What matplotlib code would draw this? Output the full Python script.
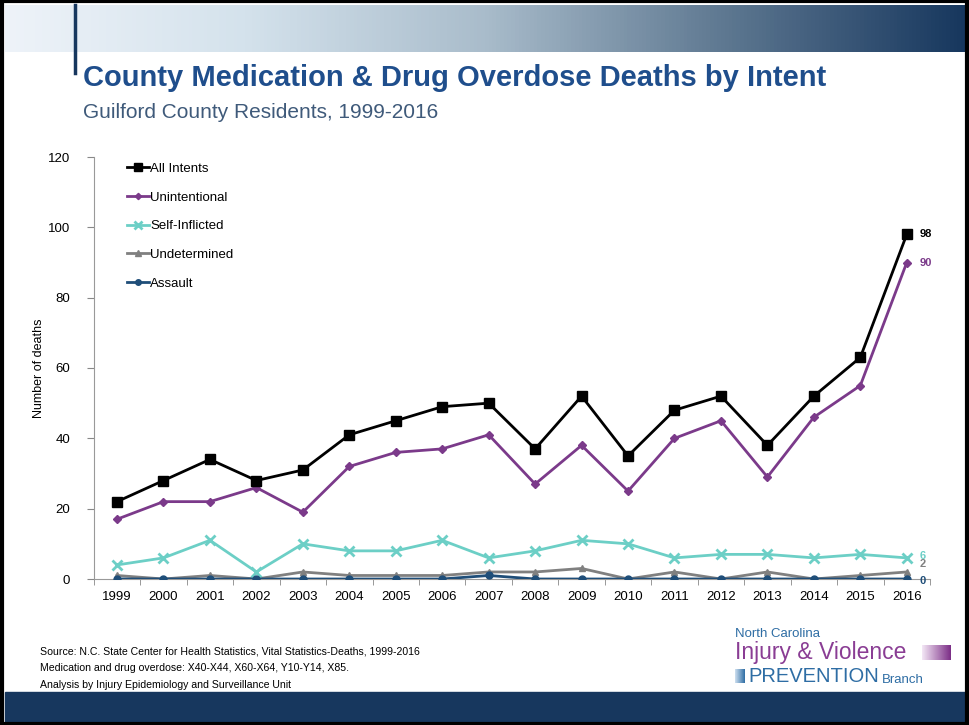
import numpy as np
import matplotlib
matplotlib.use("Agg")
import matplotlib.pyplot as plt
from matplotlib.colors import LinearSegmentedColormap
from matplotlib.patches import Rectangle

# datos
years = [str(y) for y in range(1999, 2017)]
all_intents = [22, 28, 34, 28, 31, 41, 45, 49, 50, 37, 52, 35, 48, 52, 38, 52, 63, 98]
unintentional = [17, 22, 22, 26, 19, 32, 36, 37, 41, 27, 38, 25, 40, 45, 29, 46, 55, 90]
self_inflicted = [4, 6, 11, 2, 10, 8, 8, 11, 6, 8, 11, 10, 6, 7, 7, 6, 7, 6]
undetermined = [1, 0, 1, 0, 2, 1, 1, 1, 2, 2, 3, 0, 2, 0, 2, 0, 1, 2]
assault = [0, 0, 0, 0, 0, 0, 0, 0, 1, 0, 0, 0, 0, 0, 0, 0, 0, 0]

plt.rcParams['font.family'] = ['Liberation Sans', 'DejaVu Sans']
NAVY = "#17375E"

fig = plt.figure(figsize=(9.69, 7.25), dpi=100)
W, H = 969, 725

def fx(px):
    return px / W

def fy(py):
    return 1 - py / H

# banda superior con degradado
band = fig.add_axes([fx(5), fy(52), fx(960), 47 / H])
grad = np.linspace(0, 1, 256).reshape(1, -1)
cmap = LinearSegmentedColormap.from_list("g", ["#EEF3F9", "#D4E2EC", "#A9BCCB", "#5E7891", NAVY])
band.imshow(grad, aspect="auto", cmap=cmap, extent=[0, 1, 0, 1])
band.axis("off")

# banda inferior
fig.patches.append(Rectangle((fx(5), fy(722)), fx(960), 30 / H, transform=fig.transFigure,
                             color=NAVY, zorder=0))
# linea vertical del titulo
fig.add_artist(plt.Line2D([fx(75), fx(75)], [fy(5), fy(73)], color=NAVY, lw=2.5))
# borde
fig.patches.append(Rectangle((0.002, 0.002), 0.996, 0.996, transform=fig.transFigure,
                             fill=False, edgecolor="black", lw=3, zorder=10))

fig.text(fx(83), fy(78), "County Medication & Drug Overdose Deaths by Intent",
         weight="bold", fontsize=21, color="#1F4E8C", va="center")
fig.text(fx(83), fy(112), "Guilford County Residents, 1999-2016",
         fontsize=15, color="#3F5A7A", va="center")

ax = fig.add_axes([fx(93.8), fy(579), fx(930 - 93.8), (579 - 157) / H])
x = np.arange(len(years))

ax.plot(x, all_intents, color="black", marker="s", ms=6.5, lw=2, label="All Intents", zorder=6)
ax.plot(x, unintentional, color="#7B3A8A", marker="D", ms=4, lw=2, label="Unintentional", zorder=5)
ax.plot(x, self_inflicted, color="#6CCFC6", marker="x", ms=7, mew=2, lw=2, label="Self-Inflicted", zorder=4)
ax.plot(x, undetermined, color="#808080", marker="^", ms=5, lw=2, label="Undetermined", zorder=3)
ax.plot(x, assault, color="#1F4E79", marker="o", ms=5, lw=2, label="Assault", zorder=4)

ax.set_xlim(-0.5, len(years) - 0.5)
ax.set_ylim(0, 120)
ax.set_yticks(range(0, 121, 20))
ax.set_xticks(x)
ax.set_xticklabels(years, fontsize=9.5)
ax.set_xticks(np.arange(-0.5, len(years), 1), minor=True)
ax.tick_params(axis="x", which="major", length=0, pad=9)
ax.tick_params(axis="x", which="minor", length=4, color="#888888", direction="out")
ax.tick_params(axis="y", length=5, color="#888888", labelsize=9.5, pad=12)
for s in ["top", "right"]:
    ax.spines[s].set_visible(False)
for s in ["left", "bottom"]:
    ax.spines[s].set_color("#999999")
ax.set_ylabel("Number of deaths", fontsize=9, labelpad=-2)
ax.yaxis.set_label_coords(-0.058, 0.5)

leg = ax.legend(loc="upper left", bbox_to_anchor=(0.025, 1.015), frameon=False, fontsize=9.5,
                handlelength=1.7, handletextpad=0.1, labelspacing=1.25, markerscale=0.8)

# etiquetas finales (6 y 2 casi superpuestas como en el original)
last = len(years) - 1
ends = [(all_intents, "black", 0), (unintentional, "#7B3A8A", 0),
        (self_inflicted, "#6CCFC6", 1.5), (undetermined, "#808080", 5.5), (assault, "#1F4E79", -1.5)]
for vals, col, dy in ends:
    ax.annotate(str(vals[last]), (x[last], vals[last]), xytext=(9, dy), textcoords="offset points",
                fontsize=8, color=col, weight="bold", va="center", annotation_clip=False)

src = ["Source: N.C. State Center for Health Statistics, Vital Statistics-Deaths, 1999-2016",
       "Medication and drug overdose: X40-X44, X60-X64, Y10-Y14, X85.",
       "Analysis by Injury Epidemiology and Surveillance Unit"]
for i, t in enumerate(src):
    fig.text(fx(40), fy(651 + i * 17), t, fontsize=7.6, va="center")

# logo
fig.text(fx(735), fy(634), "North Carolina", fontsize=9.5, color="#2E6DA4", va="center")
fig.text(fx(735), fy(653), "Injury & Violence", fontsize=16.5, color="#8A3D94", va="center")
fig.text(fx(748), fy(676), "PREVENTION", fontsize=14.5, color="#2E6DA4", va="center")
fig.text(fx(882), fy(680), "Branch", fontsize=9.5, color="#2E6DA4", va="center")
bar = fig.add_axes([fx(922), fy(660), fx(28), 15 / H])
bar.imshow(grad, aspect="auto", cmap=LinearSegmentedColormap.from_list("p", ["#F4E8F6", "#7B2D86"]))
bar.axis("off")
bar2 = fig.add_axes([fx(735), fy(683), fx(10), 14 / H])
bar2.imshow(grad, aspect="auto", cmap=LinearSegmentedColormap.from_list("b", ["#CFE0F0", "#2E6DA4"]))
bar2.axis("off")

fig.savefig("out.png", dpi=100)
